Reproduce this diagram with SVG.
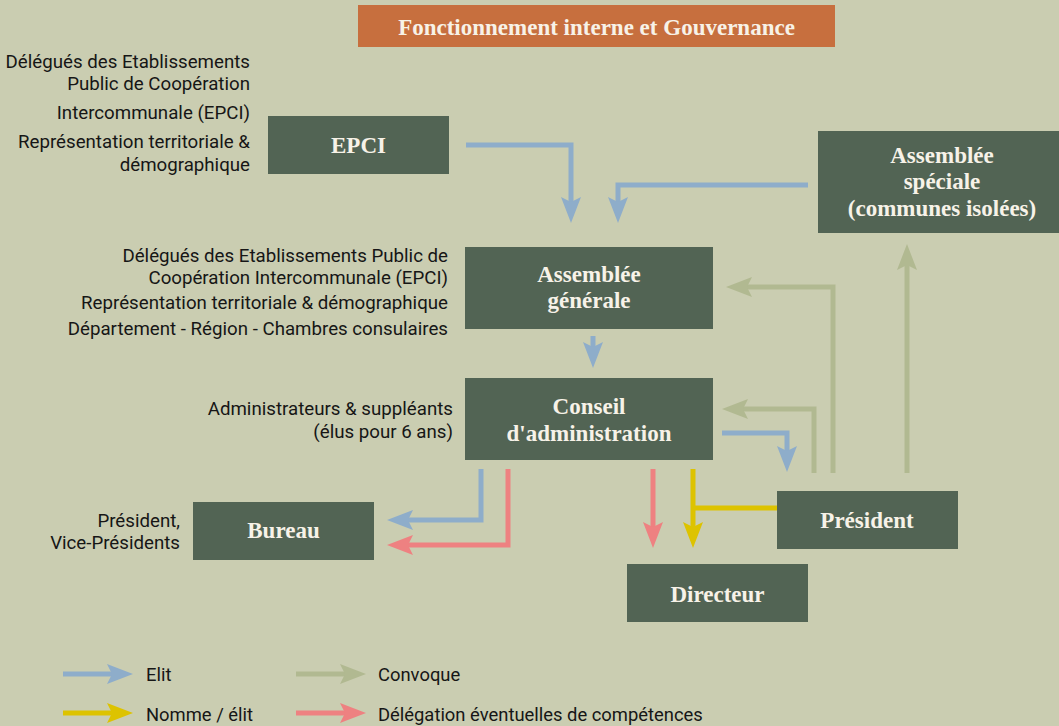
<svg xmlns="http://www.w3.org/2000/svg" width="1059" height="726" viewBox="0 0 1059 726">
<style>
.node{fill:#526454}
.nt{font-family:"Liberation Serif","Times New Roman",serif;font-weight:bold;font-size:23px;fill:#F7F2E8;text-anchor:middle}
.lbl{font-family:Roboto,"Liberation Sans",sans-serif;font-size:18.7px;fill:#161616;text-anchor:end}
.leg{font-family:Roboto,"Liberation Sans",sans-serif;font-size:18.4px;fill:#161616}
.c{fill:none;stroke-width:5}
.blue{stroke:#8EADCA}
.green{stroke:#B1B991}
.yellow{stroke:#DDC300}
.red{stroke:#EE8181}
</style>
<defs>
<marker id="mb" markerUnits="userSpaceOnUse" markerWidth="30" markerHeight="24" viewBox="0 -12 30 24" refX="8" refY="0" orient="auto"><path d="M0,-10 L26,0 L0,10 L5,0 Z" fill="#8EADCA"/></marker>
<marker id="mg" markerUnits="userSpaceOnUse" markerWidth="30" markerHeight="24" viewBox="0 -12 30 24" refX="8" refY="0" orient="auto"><path d="M0,-10 L26,0 L0,10 L5,0 Z" fill="#B1B991"/></marker>
<marker id="my" markerUnits="userSpaceOnUse" markerWidth="30" markerHeight="24" viewBox="0 -12 30 24" refX="8" refY="0" orient="auto"><path d="M0,-10 L26,0 L0,10 L5,0 Z" fill="#DDC300"/></marker>
<marker id="mr" markerUnits="userSpaceOnUse" markerWidth="30" markerHeight="24" viewBox="0 -12 30 24" refX="8" refY="0" orient="auto"><path d="M0,-10 L26,0 L0,10 L5,0 Z" fill="#EE8181"/></marker>
</defs>
<rect width="1059" height="726" fill="#CACDB1"/>

<g id="title">
<rect x="358" y="5" width="477" height="42" fill="#C76F3E"/>
<text x="596.5" y="35" class="nt">Fonctionnement interne et Gouvernance</text>
</g>

<g id="labels">
<text class="lbl" x="250" y="68">Délégués des Etablissements</text>
<text class="lbl" x="250" y="90">Public de Coopération</text>
<text class="lbl" x="250" y="119">Intercommunale (EPCI)</text>
<text class="lbl" x="250" y="148">Représentation territoriale &amp;</text>
<text class="lbl" x="250" y="171">démographique</text>
<text class="lbl" x="448" y="262">Délégués des Etablissements Public de</text>
<text class="lbl" x="448" y="284">Coopération Intercommunale (EPCI)</text>
<text class="lbl" x="448" y="309">Représentation territoriale &amp; démographique</text>
<text class="lbl" x="448" y="335">Département - Région - Chambres consulaires</text>
<text class="lbl" x="453" y="415">Administrateurs &amp; suppléants</text>
<text class="lbl" x="453" y="438">(élus pour 6 ans)</text>
<text class="lbl" x="180" y="527">Président,</text>
<text class="lbl" x="180" y="549">Vice-Présidents</text>
</g>

<g id="epci">
<rect class="node" x="268" y="116" width="181" height="58"/>
<text class="nt" x="358.5" y="153">EPCI</text>
</g>
<g id="assemblee-speciale">
<rect class="node" x="818" y="131" width="241" height="102"/>
<text class="nt" x="942" y="163">Assemblée</text>
<text class="nt" x="942" y="189">spéciale</text>
<text class="nt" x="942" y="216">(communes isolées)</text>
</g>
<g id="assemblee-generale">
<rect class="node" x="465" y="247" width="248" height="82"/>
<text class="nt" x="589" y="282">Assemblée</text>
<text class="nt" x="589" y="308">générale</text>
</g>
<g id="conseil">
<rect class="node" x="465" y="378" width="248" height="82"/>
<text class="nt" x="589" y="414">Conseil</text>
<text class="nt" x="589" y="441">d'administration</text>
</g>
<g id="bureau">
<rect class="node" x="193" y="502" width="181" height="58"/>
<text class="nt" x="283.5" y="538">Bureau</text>
</g>
<g id="president">
<rect class="node" x="777" y="491" width="181" height="58"/>
<text class="nt" x="867" y="528">Président</text>
</g>
<g id="directeur">
<rect class="node" x="627" y="564" width="181" height="58"/>
<text class="nt" x="717.5" y="602">Directeur</text>
</g>

<g id="connectors">
<path class="c blue" d="M466,145 H571 V205" marker-end="url(#mb)"/>
<path class="c blue" d="M808,185 H618 V205" marker-end="url(#mb)"/>
<path class="c blue" d="M593,336 V350" marker-end="url(#mb)"/>
<path class="c blue" d="M481,469 V520 H405" marker-end="url(#mb)"/>
<path class="c red" d="M508,469 V545 H405" marker-end="url(#mr)"/>
<path class="c red" d="M653,469 V530" marker-end="url(#mr)"/>
<path class="c yellow" d="M777,508 H693"/>
<path class="c yellow" d="M693,469 V530" marker-end="url(#my)"/>
<path class="c blue" d="M722,433 H787 V454" marker-end="url(#mb)"/>
<path class="c green" d="M814,473 V409 H740" marker-end="url(#mg)"/>
<path class="c green" d="M833,473 V287 H744" marker-end="url(#mg)"/>
<path class="c green" d="M907,473 V262" marker-end="url(#mg)"/>
</g>

<g id="legend">
<path class="c blue" d="M63,674 H115" marker-end="url(#mb)"/>
<text class="leg" x="146" y="681">Elit</text>
<path class="c green" d="M296,674 H348" marker-end="url(#mg)"/>
<text class="leg" x="378" y="681">Convoque</text>
<path class="c yellow" d="M63,713 H115" marker-end="url(#my)"/>
<text class="leg" x="146" y="721">Nomme / élit</text>
<path class="c red" d="M296,713 H348" marker-end="url(#mr)"/>
<text class="leg" x="378" y="721">Délégation éventuelles de compétences</text>
</g>
</svg>
